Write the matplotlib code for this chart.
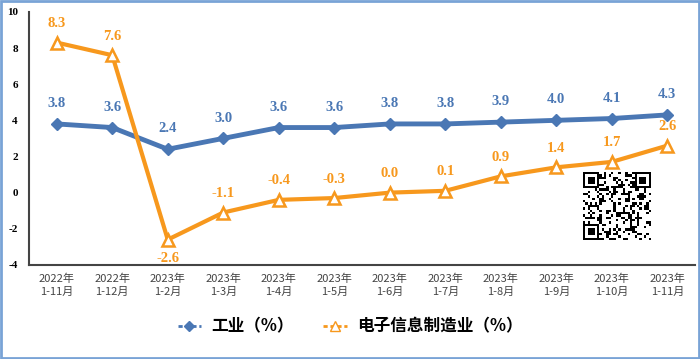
import matplotlib
matplotlib.use("Agg")
import matplotlib.pyplot as plt
import numpy as np
from matplotlib.patches import Rectangle
from matplotlib.lines import Line2D

categories = ["2022年\n1-11月", "2022年\n1-12月", "2023年\n1-2月", "2023年\n1-3月",
              "2023年\n1-4月", "2023年\n1-5月", "2023年\n1-6月", "2023年\n1-7月",
              "2023年\n1-8月", "2023年\n1-9月", "2023年\n1-10月", "2023年\n1-11月"]
industry = [3.8, 3.6, 2.4, 3.0, 3.6, 3.6, 3.8, 3.8, 3.9, 4.0, 4.1, 4.3]
electronics = [8.3, 7.6, -2.6, -1.1, -0.4, -0.3, 0.0, 0.1, 0.9, 1.4, 1.7, 2.6]
series_names = ["工业（%）", "电子信息制造业（%）"]
yticks = [-4, -2, 0, 2, 4, 6, 8, 10]

blue = "#4a77b4"
orange = "#f7981d"
cjk = ["Noto Sans CJK SC", "DejaVu Sans"]
serif = "Liberation Serif"

fig = plt.figure(figsize=(7, 3.59), dpi=100)
fig.patch.set_facecolor("white")
fig.add_artist(Rectangle((0.002, 0.003), 0.996, 0.994, transform=fig.transFigure,
                         fill=False, edgecolor="#79a3d6", linewidth=2))

ax = fig.add_axes([0.0414, 0.262, 0.9516, 0.705])
x = np.arange(len(categories))
ax.plot(x, industry, color=blue, linewidth=3.5, marker="D", markersize=6,
        markerfacecolor=blue, markeredgecolor=blue, zorder=3)
ax.plot(x, electronics, color=orange, linewidth=3, marker="^", markersize=8.5,
        markerfacecolor="white", markeredgecolor=orange, markeredgewidth=1.8, zorder=4)

for xi, v in zip(x, industry):
    ax.annotate(f"{v:.1f}", (xi, v), xytext=(0, 10), textcoords="offset points",
                ha="center", va="bottom", color=blue, fontsize=10.5,
                fontweight="bold", family=serif)
for xi, v in zip(x, electronics):
    if v < -2:
        ax.annotate(f"{v:.1f}", (xi, v), xytext=(0, -9), textcoords="offset points",
                    ha="center", va="top", color=orange, fontsize=10.5,
                    fontweight="bold", family=serif)
    else:
        ax.annotate(f"{v:.1f}", (xi, v), xytext=(0, 9), textcoords="offset points",
                    ha="center", va="bottom", color=orange, fontsize=10.5,
                    fontweight="bold", family=serif)

ax.set_xlim(-0.5, len(categories) - 0.5)
ax.set_ylim(-4, 10)
ax.set_yticks(yticks)
ax.set_yticklabels([str(t) for t in yticks], family=serif, fontweight="bold", fontsize=8)
ax.set_xticks(x)
ax.set_xticklabels(categories, family=cjk, fontsize=8, color="#444444", linespacing=1.45)
ax.tick_params(axis="both", length=0)
ax.tick_params(axis="x", pad=6)
ax.tick_params(axis="y", pad=8)
for s in ["top", "right"]:
    ax.spines[s].set_visible(False)
for s in ["left", "bottom"]:
    ax.spines[s].set_color("#444444")
    ax.spines[s].set_linewidth(1.5)
ax.set_facecolor("white")

handles = [Line2D([], [], color=blue, linestyle=(0, (1.5, 1)), linewidth=2, marker="D",
                  markersize=5, markerfacecolor=blue),
           Line2D([], [], color=orange, linestyle=(0, (1.5, 1)), linewidth=2, marker="^",
                  markersize=7, markerfacecolor="white", markeredgecolor=orange)]
fig.legend(handles, series_names, loc="center", bbox_to_anchor=(0.5, 0.09), ncol=2,
           frameon=False, prop={"family": cjk, "weight": "bold", "size": 12},
           handlelength=1.4, columnspacing=1.8, handletextpad=0.6)

# QR code decoration
qr = fig.add_axes([0.833, 0.33, 0.097, 0.19])
n = 29
ii, jj = np.meshgrid(np.arange(n), np.arange(n))
pat = (((ii * 7 + jj * 13) ^ (ii * jj)) % 3 == 0).astype(float)
for (r, c) in [(0, 0), (0, n - 7), (n - 7, 0)]:
    pat[r:r + 7, c:c + 7] = 0
    pat[r:r + 7, c] = 1; pat[r:r + 7, c + 6] = 1
    pat[r, c:c + 7] = 1; pat[r + 6, c:c + 7] = 1
    pat[r + 2:r + 5, c + 2:c + 5] = 1
qr.imshow(1 - pat, cmap="gray", interpolation="nearest")
qr.axis("off")

fig.savefig("out.png", dpi=100, facecolor="white")
